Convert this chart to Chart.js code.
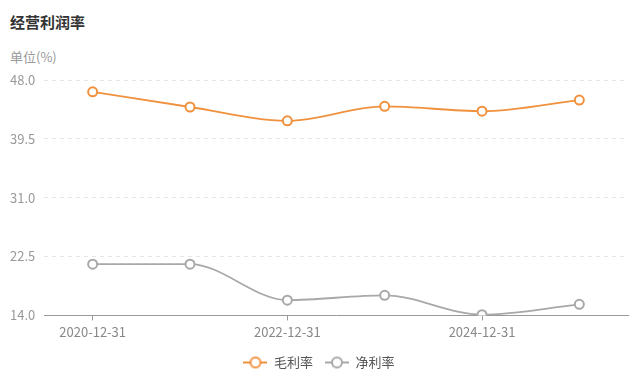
<!DOCTYPE html>
<html><head><meta charset="utf-8">
<script src="https://cdn.jsdelivr.net/npm/chart.js@4/dist/chart.umd.min.js"></script>
<style>
html,body{margin:0;padding:0;background:#fff;}
#wrap{position:relative;width:640px;height:381px;font-family:"Noto Sans CJK SC","Noto Sans",sans-serif;}
#title{position:absolute;left:10px;top:11px;font-size:15px;font-weight:bold;color:#333;}
#unit{position:absolute;left:10px;top:47px;font-size:13px;color:#999;}
canvas{position:absolute;left:0;top:0;}
</style></head>
<body><div id="wrap">
<div id="title">经营利润率</div>
<div id="unit">单位(%)</div>
<canvas id="c" width="640" height="381"></canvas>
</div>
<script>
const categories = ["2020-12-31","2021-12-31","2022-12-31","2023-12-31","2024-12-31","2025-09-30"];
const grossMargin = [46.3, 44.1, 42.1, 44.2, 43.5, 45.1];
const netMargin = [21.4, 21.4, 16.2, 16.9, 14.1, 15.6];
const yTicks = [14.0, 22.5, 31.0, 39.5, 48.0];
const seriesNames = ["毛利率","净利率"];

const ORANGE = '#F0913E', GRAY = '#A8A8A8';
function legendIcon(color){
  const c = document.createElement('canvas');
  c.width = 24; c.height = 14;
  const x = c.getContext('2d');
  x.strokeStyle = color; x.lineWidth = 2;
  x.beginPath(); x.moveTo(0,7); x.lineTo(24,7); x.stroke();
  x.beginPath(); x.arc(12,7,5,0,Math.PI*2); x.fillStyle='#fff'; x.fill(); x.stroke();
  return c;
}
const icons = [legendIcon(ORANGE), legendIcon(GRAY)];

new Chart(document.getElementById('c'), {
  type: 'line',
  data: {
    labels: categories,
    datasets: [
      {label: seriesNames[0], data: grossMargin, borderColor: ORANGE, backgroundColor: '#fff',
       pointBorderColor: ORANGE, pointBackgroundColor: '#fff', pointRadius: 4.5, pointBorderWidth: 2,
       borderWidth: 1.8, cubicInterpolationMode: 'monotone'},
      {label: seriesNames[1], data: netMargin, borderColor: GRAY, backgroundColor: '#fff',
       pointBorderColor: GRAY, pointBackgroundColor: '#fff', pointRadius: 4.5, pointBorderWidth: 2,
       borderWidth: 1.8, cubicInterpolationMode: 'monotone'}
    ]
  },
  options: {
    responsive: false, animation: false,
    layout: {padding: {left: 10, right: 12, top: 80, bottom: 2}},
    plugins: {
      tooltip: {enabled: false},
      legend: {
        position: 'bottom',
        labels: {
          usePointStyle: true, pointStyleWidth: 24, boxHeight: 14,
          color: '#555', font: {size: 13, family: '"Noto Sans CJK SC", sans-serif'},
          padding: 12,
          generateLabels: (chart) => chart.data.datasets.map((d,i) => ({
            text: d.label, pointStyle: icons[i], fillStyle: '#fff', strokeStyle: d.borderColor,
            lineWidth: 0, datasetIndex: i, hidden: false, fontColor: '#555'
          }))
        }
      }
    },
    scales: {
      x: {
        offset: true,
        grid: {drawOnChartArea: false, drawTicks: true, tickLength: 5,
               tickColor: (ctx) => ctx.index % 2 === 0 ? '#999' : 'rgba(0,0,0,0)'},
        border: {color: '#999', width: 1},
        ticks: {autoSkip: false, maxRotation: 0, color: '#888', padding: 4,
                font: {size: 13, family: '"Noto Sans CJK SC", sans-serif'},
                callback: function(v, i){ return i % 2 === 0 ? this.getLabelForValue(v) : ''; }}
      },
      y: {
        min: 14, max: 48,
        afterBuildTicks: (axis) => { axis.ticks = yTicks.map(v => ({value: v})); },
        afterFit: (axis) => { axis.width = 34; },
        grid: {color: '#e6e6e6', drawTicks: false},
        border: {display: false, dash: [4,4]},
        ticks: {color: '#999', crossAlign: 'far', padding: 6,
                font: {size: 13, family: '"Noto Sans CJK SC", sans-serif'},
                callback: (v) => Number(v).toFixed(1)}
      }
    }
  }
});
</script>
</body></html>
